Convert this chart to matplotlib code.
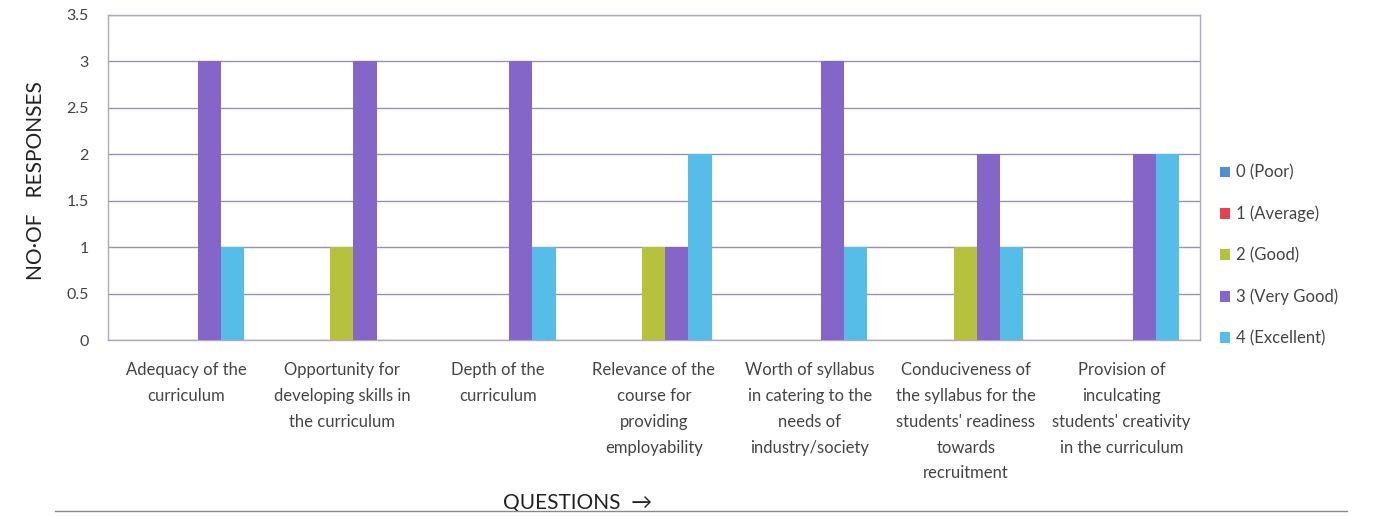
import numpy as np
import matplotlib
matplotlib.use("Agg")
import matplotlib.pyplot as plt

plt.rcParams['font.family'] = ['Lato', 'DejaVu Sans']

# data
questions = [
    "Adequacy of the\ncurriculum",
    "Opportunity for\ndeveloping skills in\nthe curriculum",
    "Depth of the\ncurriculum",
    "Relevance of the\ncourse for\nproviding\nemployability",
    "Worth of syllabus\nin catering to the\nneeds of\nindustry/society",
    "Conduciveness of\nthe syllabus for the\nstudents' readiness\ntowards\nrecruitment",
    "Provision of\ninculcating\nstudents' creativity\nin the curriculum",
]
series_names = ["0 (Poor)", "1 (Average)", "2 (Good)", "3 (Very Good)", "4 (Excellent)"]
poor      = [0, 0, 0, 0, 0, 0, 0]
average   = [0, 0, 0, 0, 0, 0, 0]
good      = [0, 1, 0, 1, 0, 1, 0]
very_good = [3, 3, 3, 1, 3, 2, 2]
excellent = [1, 0, 1, 2, 1, 1, 2]

colors = ["#4A8FD8", "#E8414C", "#B6C13C", "#8466C8", "#56BCE8"]

fig = plt.figure(figsize=(13.74, 5.16), dpi=100)
ax = fig.add_axes([0.0786, 0.341, 0.7945, 0.630])

x = np.arange(len(questions))
w = 0.148
all_series = [poor, average, good, very_good, excellent]
for i, (vals, name, c) in enumerate(zip(all_series, series_names, colors)):
    ax.bar(x + (i - 2) * w, vals, width=w, color=c, label=name, zorder=3)

ax.set_xlim(-0.5, len(questions) - 0.5)
ax.set_ylim(0, 3.5)
ax.set_yticks(np.arange(0, 3.51, 0.5))
ax.set_yticklabels(["0", "0.5", "1", "1.5", "2", "2.5", "3", "3.5"])
ax.yaxis.grid(True, color="#9A90B0", linewidth=1.0, zorder=0)
ax.set_xticks(x)
ax.set_xticklabels(questions, fontsize=12, color="#444444", linespacing=1.75)
ax.tick_params(axis='x', length=0, pad=16)
ax.tick_params(axis='y', length=0, labelsize=11.5, labelcolor="#444444", pad=14)
for s in ax.spines.values():
    s.set_color("#B0A8C0")
    s.set_linewidth(1.0)

# handwritten axis notes on the scan
fig.text(0.026, 0.65, "NO·OF   RESPONSES", rotation=90, fontsize=15,
         color="#222222", ha="center", va="center")
ax.text(0.43, -0.47, "QUESTIONS  \u2192", transform=ax.transAxes, fontsize=15,
        color="#222222", ha="center", va="top")

ax.legend(loc="center left", bbox_to_anchor=(1.005, 0.26), frameon=False,
          fontsize=12, labelcolor="#444444", handlelength=0.6, handleheight=0.6,
          labelspacing=1.5, handletextpad=0.35)

fig.add_artist(plt.Line2D([0.04, 0.98], [0.01, 0.01], color="#888888", linewidth=1))

fig.savefig("out.png", dpi=100)
